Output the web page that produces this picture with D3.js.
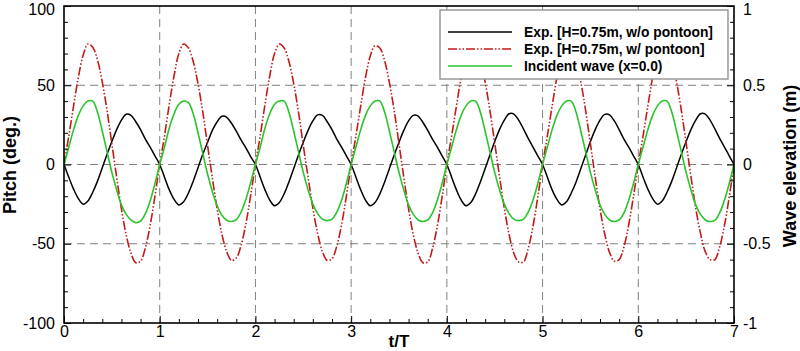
<!DOCTYPE html>
<html>
<head>
<meta charset="utf-8">
<script src="https://cdn.jsdelivr.net/npm/d3@7/dist/d3.min.js"></script>
<style>
  html, body { margin: 0; padding: 0; background: #fff; }
  svg { display: block; font-family: Arial, "Liberation Sans", sans-serif; }
</style>
</head>
<body>
<svg id="chart" width="800" height="351"></svg>
<script>
// ---- data ----
// sampling times t/T (every 0.05 T from 0 to 7)
const tValues = d3.range(0, 141).map(i => +(i * 0.05).toFixed(2));

// pitch (deg.), experiment H=0.75m without pontoon
const pitchNoPontoon = [
  0, -8, -15.5, -21.5, -25, -23, -17.5, -10.5, -2, 6.5, 14.5, 22, 28, 31.7, 31, 27, 22, 16, 11, 5.5,
  0, -8, -16, -22, -25.5, -23.5, -18, -10.5, -2, 6.5, 14, 21.5, 27, 30.4, 29.8, 26, 21, 15.5, 10.5, 5,
  0, -8, -16, -22.5, -26, -24, -18.5, -11, -2.5, 6, 14, 21.5, 27.5, 31.3, 31, 27, 22, 16, 11, 5.5,
  0, -8, -16, -22.5, -26, -24, -18.5, -11, -2.5, 6, 14, 21.5, 27.5, 31, 30.5, 26.5, 21.5, 16, 11, 5.5,
  0, -8, -16, -22.5, -26, -24, -18.5, -11, -2.5, 6, 14.5, 22, 28, 32, 31.8, 28, 22.5, 16.5, 11, 5.5,
  0, -8, -16, -22, -25.5, -23.5, -18, -11, -2.5, 6, 14.5, 22, 28, 31.6, 31.3, 27.5, 22, 16, 11, 5.5,
  0, -8, -15.5, -21.5, -25, -23, -17.5, -10.5, -2, 6.5, 14.5, 22, 28, 32, 31.8, 28, 22.5, 16.5, 11, 5.5,
  0
];

// pitch (deg.), experiment H=0.75m with pontoon
const pitchWithPontoon = [
  0, 18, 37, 55, 69, 76, 74, 66, 52, 34, 13, -8, -28, -44.5, -56, -62, -61, -52.5, -38.5, -20,
  0, 18, 38, 56, 70, 76, 73.5, 65, 51, 33, 12, -8.5, -28, -44, -55, -60.5, -59, -51, -37.5, -19.5,
  0, 18, 38, 56, 70, 76, 73.5, 65, 51, 33, 12, -8, -27.5, -43.5, -55, -60.5, -59.5, -51.5, -38, -20,
  0, 18, 37, 55, 68.5, 75, 73.5, 65.5, 51.5, 34, 13, -8, -28, -44.5, -56, -62, -61.5, -53, -39, -20.5,
  0, 18, 37, 55, 69, 76, 74, 66, 52, 34, 13.5, -7.5, -27.5, -44, -56, -61.5, -61.5, -53, -39, -20.5,
  0, 18, 37, 55, 69, 76, 74, 66, 52, 34, 13, -8, -28, -44, -55.5, -61, -60, -52, -38, -20,
  0, 18, 37, 55, 69, 76, 74, 66, 52, 34, 13.5, -7.5, -27.5, -43.5, -55, -60, -60, -52, -38.5, -20.5,
  0
];

// incident wave elevation (m) at x=0.0
const incidentWave = [
  0, 0.11, 0.22, 0.31, 0.37, 0.40, 0.40, 0.33, 0.21, 0.08, -0.05, -0.16, -0.255, -0.315, -0.35, -0.367, -0.357, -0.31, -0.23, -0.12,
  0, 0.11, 0.23, 0.32, 0.38, 0.40, 0.39, 0.32, 0.20, 0.07, -0.06, -0.17, -0.26, -0.32, -0.352, -0.36, -0.348, -0.30, -0.22, -0.115,
  0, 0.11, 0.23, 0.32, 0.38, 0.40, 0.40, 0.33, 0.21, 0.08, -0.05, -0.16, -0.25, -0.31, -0.345, -0.354, -0.345, -0.30, -0.225, -0.12,
  0, 0.11, 0.22, 0.31, 0.37, 0.40, 0.40, 0.33, 0.21, 0.08, -0.05, -0.16, -0.255, -0.315, -0.35, -0.36, -0.35, -0.305, -0.225, -0.12,
  0, 0.11, 0.22, 0.31, 0.37, 0.40, 0.40, 0.33, 0.21, 0.08, -0.05, -0.16, -0.25, -0.31, -0.345, -0.354, -0.345, -0.30, -0.225, -0.12,
  0, 0.11, 0.22, 0.31, 0.37, 0.40, 0.40, 0.33, 0.21, 0.08, -0.05, -0.16, -0.255, -0.315, -0.35, -0.36, -0.35, -0.305, -0.225, -0.12,
  0, 0.11, 0.22, 0.31, 0.37, 0.40, 0.40, 0.33, 0.21, 0.08, -0.05, -0.16, -0.255, -0.315, -0.35, -0.36, -0.352, -0.305, -0.225, -0.12,
  0
];

const xTicks = [0, 1, 2, 3, 4, 5, 6, 7];
const yLeftTicks = [-100, -50, 0, 50, 100];
const yRightTicks = [-1, -0.5, 0, 0.5, 1];
const legendLabels = [
  "Exp. [H=0.75m, w/o pontoon]",
  "Exp. [H=0.75m, w/ pontoon]",
  "Incident wave (x=0.0)"
];

// ---- layout ----
const L = 64, R = 734, T = 6, B = 323;
const svg = d3.select("#chart");

const x = d3.scaleLinear().domain([0, 7]).range([L, R]);
const yL = d3.scaleLinear().domain([-100, 100]).range([B, T]);
const yR = d3.scaleLinear().domain([-1, 1]).range([B, T]);

// grid (dashed)
const grid = svg.append("g").attr("stroke", "#808080").attr("stroke-width", 1).attr("stroke-dasharray", "8,5");
grid.selectAll("line.v").data(xTicks.slice(1, -1)).join("line")
  .attr("x1", d => x(d)).attr("x2", d => x(d)).attr("y1", T).attr("y2", B);
grid.selectAll("line.h").data([-50, 0, 50]).join("line")
  .attr("x1", L).attr("x2", R).attr("y1", d => yL(d)).attr("y2", d => yL(d));

// clip
svg.append("clipPath").attr("id", "plotclip").append("rect")
  .attr("x", L).attr("y", T).attr("width", R - L).attr("height", B - T);

const curve = d3.curveCatmullRom.alpha(0.5);
const lineL = d3.line().x((d, i) => x(tValues[i])).y(d => yL(d)).curve(curve);
const lineR = d3.line().x((d, i) => x(tValues[i])).y(d => yR(d)).curve(curve);

const series = [
  { data: pitchNoPontoon, gen: lineL, color: "#000000", dash: null, w: 1.5 },
  { data: pitchWithPontoon, gen: lineL, color: "#c41a1a", dash: "9,2,1.5,2,1.5,2", w: 1.6 },
  { data: incidentWave, gen: lineR, color: "#2ac42a", dash: null, w: 1.6 }
];

const plot = svg.append("g").attr("clip-path", "url(#plotclip)");
series.forEach(s => {
  plot.append("path").attr("d", s.gen(s.data))
    .attr("fill", "none").attr("stroke", s.color).attr("stroke-width", s.w)
    .attr("stroke-dasharray", s.dash);
});

// legend
const lg = svg.append("g");
lg.append("rect").attr("x", 440).attr("y", 10).attr("width", 288).attr("height", 69)
  .attr("fill", "#fff").attr("stroke", "#999").attr("stroke-width", 1.5);
const legRows = [32, 49, 66];
series.forEach((s, i) => {
  lg.append("line").attr("x1", 448).attr("x2", 512).attr("y1", legRows[i]).attr("y2", legRows[i])
    .attr("stroke", s.color).attr("stroke-width", s.w).attr("stroke-dasharray", s.dash);
  lg.append("text").attr("x", 524).attr("y", legRows[i]).attr("dy", "0.35em")
    .attr("font-size", 13.8).attr("font-weight", "bold").text(legendLabels[i]);
});

// axes
function styleAxis(g) {
  g.select(".domain").remove();
  g.selectAll("line").attr("stroke", "#000").attr("stroke-width", 1);
  g.selectAll("text").attr("font-size", 16).attr("fill", "#000")
    .attr("font-family", 'Arial, "Liberation Sans", sans-serif');
}
const fmt = d => String(d);
// keep the topmost labels inside the picture, as in the reference
function nudgeTop(g, top) {
  g.selectAll(".tick").filter(d => d === top).select("text").attr("dy", "0.5em");
}

svg.append("g").attr("transform", `translate(${L},0)`)
  .call(d3.axisLeft(yL).tickValues(d3.range(-90, 100, 10).filter(v => v % 50 !== 0)).tickSizeInner(-4).tickSizeOuter(0).tickFormat(""))
  .call(styleAxis);
svg.append("g").attr("transform", `translate(${L},0)`)
  .call(d3.axisLeft(yL).tickValues(yLeftTicks).tickSizeInner(-7).tickSizeOuter(0).tickPadding(9).tickFormat(fmt))
  .call(styleAxis).call(g => nudgeTop(g, 100));

svg.append("g").attr("transform", `translate(${R},0)`)
  .call(d3.axisRight(yR).tickValues(d3.range(-9, 10).filter(v => v % 5 !== 0).map(v => v / 10)).tickSizeInner(-4).tickSizeOuter(0).tickFormat(""))
  .call(styleAxis);
svg.append("g").attr("transform", `translate(${R},0)`)
  .call(d3.axisRight(yR).tickValues(yRightTicks).tickSizeInner(-7).tickSizeOuter(0).tickPadding(9).tickFormat(fmt))
  .call(styleAxis).call(g => nudgeTop(g, 1));

svg.append("g").attr("transform", `translate(0,${B})`)
  .call(d3.axisBottom(x).tickValues(d3.range(1, 35).filter(v => v % 5 !== 0).map(v => v / 5)).tickSizeInner(-4).tickSizeOuter(0).tickFormat(""))
  .call(styleAxis);
svg.append("g").attr("transform", `translate(0,${B})`)
  .call(d3.axisBottom(x).tickValues(xTicks).tickSizeInner(-7).tickSizeOuter(0).tickPadding(3).tickFormat(fmt))
  .call(styleAxis);

// frame
svg.append("rect").attr("x", L).attr("y", T).attr("width", R - L).attr("height", B - T)
  .attr("fill", "none").attr("stroke", "#000").attr("stroke-width", 1.6);

// titles
svg.append("text").attr("transform", `translate(16,165) rotate(-90)`)
  .attr("text-anchor", "middle").attr("font-size", 18).attr("font-weight", "bold").text("Pitch (deg.)");
svg.append("text").attr("transform", `translate(796,166) rotate(-90)`)
  .attr("text-anchor", "middle").attr("font-size", 18).attr("font-weight", "bold").text("Wave elevation (m)");
svg.append("text").attr("x", 399).attr("y", 347)
  .attr("text-anchor", "middle").attr("font-size", 17).attr("font-weight", "bold").text("t/T");
</script>
</body>
</html>
